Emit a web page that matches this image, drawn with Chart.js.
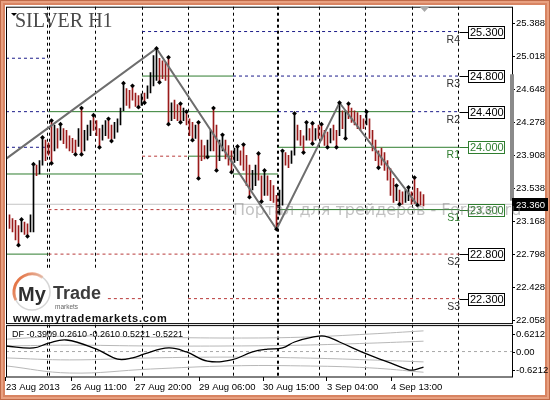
<!DOCTYPE html>
<html>
<head>
<meta charset="utf-8">
<script src="https://cdn.jsdelivr.net/npm/chart.js@4.4.1/dist/chart.umd.min.js"></script>
<style>
  html, body { margin: 0; padding: 0; background: #fff; }
</style>
</head>
<body>
<canvas id="grafico" width="550" height="400"></canvas>
<script>
// Valores (SILVER H1, barras horárias)
const barHighs = [23.24, 23.20, 23.18, 23.12, 23.19, 23.16, 23.14, 23.24, 23.81, 23.80,
  23.85, 24.11, 24.08, 24.05, 24.30, 24.25, 24.21, 24.26, 24.21, 24.19,
  24.13, 24.10, 24.08, 24.21, 24.44, 24.19, 24.25, 24.30, 24.36, 24.30,
  24.21, 24.25, 24.30, 24.32, 24.25, 24.28, 24.32, 24.44, 24.72, 24.66,
  24.64, 24.69, 24.61, 24.58, 24.60, 24.61, 24.69, 24.84, 25.03, 25.11,
  25.00, 24.97, 24.95, 25.01, 24.50, 24.53, 24.48, 24.49, 24.44, 24.40,
  24.32, 24.28, 24.25, 24.28, 24.08, 24.02, 24.08, 24.19, 24.44, 24.25,
  24.08, 24.14, 24.08, 24.02, 23.96, 23.99, 24.01, 23.96, 24.03, 23.91,
  23.80, 23.74, 23.80, 23.93, 23.68, 23.74, 23.68, 23.63, 23.57, 23.46,
  23.52, 23.96, 23.94, 23.91, 23.96, 24.38, 24.25, 24.19, 24.13, 24.28,
  24.21, 24.27, 24.21, 24.25, 24.26, 24.19, 24.17, 24.21, 24.25, 24.19,
  24.50, 24.41, 24.41, 24.49, 24.44, 24.41, 24.39, 24.36, 24.32, 24.40,
  24.32, 24.19, 24.08, 23.96, 23.99, 23.94, 23.85, 23.76, 23.65, 23.57,
  23.52, 23.50, 23.52, 23.55, 23.50, 23.66, 23.54, 23.50, 23.47];
const barLows = [23.09, 23.05, 22.96, 22.90, 23.05, 23.02, 23.00, 23.05, 23.05, 23.68,
  23.70, 23.80, 23.85, 23.91, 23.82, 23.96, 23.99, 24.08, 24.04, 23.99,
  23.96, 23.94, 23.92, 24.01, 23.92, 23.96, 24.08, 24.13, 24.19, 24.13,
  24.00, 24.08, 24.13, 24.10, 24.07, 24.10, 24.17, 24.25, 24.41, 24.47,
  24.44, 24.53, 24.46, 24.45, 24.47, 24.50, 24.55, 24.61, 24.69, 24.75,
  24.73, 24.77, 24.75, 24.26, 24.30, 24.32, 24.30, 24.28, 24.30, 24.25,
  24.13, 24.08, 24.10, 23.65, 23.85, 23.87, 23.89, 23.96, 23.96, 23.74,
  23.85, 23.96, 23.87, 23.80, 23.72, 23.83, 23.85, 23.80, 23.74, 23.57,
  23.44, 23.52, 23.57, 23.63, 23.39, 23.46, 23.46, 23.40, 23.38, 23.08,
  23.24, 23.35, 23.80, 23.77, 23.82, 23.91, 24.08, 24.02, 23.94, 24.08,
  24.08, 24.04, 24.08, 24.10, 24.08, 24.02, 24.00, 24.05, 24.08, 24.00,
  24.13, 24.21, 24.10, 24.32, 24.28, 24.25, 24.21, 24.19, 24.21, 24.25,
  24.10, 23.96, 23.85, 23.77, 23.80, 23.74, 23.63, 23.46, 23.38, 23.40,
  23.36, 23.36, 23.38, 23.40, 23.36, 23.37, 23.35, 23.35, 23.34];
// barras de alta (pretas); as demais são de baixa (vermelhas)
const upBars = [4, 7, 8, 10, 11, 15, 17, 23, 25, 26, 27, 31, 32, 35, 36, 37, 38, 44, 46, 47, 48, 49,
  54, 58, 62, 66, 67, 70, 71, 75, 76, 81, 82, 85, 90, 91, 94, 95, 99, 102, 107, 110, 112, 119, 129, 132, 133];
const fractalUp = [4, 8, 11, 14, 17, 24, 28, 33, 38, 41, 49, 53, 57, 59, 63, 68, 71, 76, 78, 83, 85,
  91, 95, 99, 101, 104, 110, 113, 119, 129, 133, 135];
const fractalDown = [3, 6, 14, 22, 24, 30, 34, 43, 45, 50, 53, 57, 61, 63, 66, 69, 74, 80, 84, 89,
  98, 101, 106, 109, 112, 123, 130, 136];
const zigzagIdx = [-1.17, 49, 89, 110, 136];
const zigzagPrice = [23.87, 25.11, 23.08, 24.50, 23.35];

// separadores de dia e rótulos do eixo de tempo
const daySeparators = [12.5, 13.2, 28.8, 44.2, 59.5, 74.5, 89.2, 89.8, 103.2, 118.8, 134.2, 149.8];
const timeTickPos = [-1.17, 20.5, 41.83, 63.17, 84.5, 105.83, 127.17];
const timeTickLabels = ['23 Aug 2013', '26 Aug 11:00', '27 Aug 20:00', '29 Aug 06:00', '30 Aug 15:00', '3 Sep 04:00', '4 Sep 13:00'];
const priceTicks = [25.388, 25.018, 24.648, 24.278, 23.908, 23.538, 23.168, 22.798, 22.428, 22.058];

// níveis de pivô diários: R = resistência, P = nível verde, S = suporte
const levelKind  = ['R', 'R', 'R', 'R', 'R', 'R', 'R', 'P', 'P', 'P', 'P', 'P', 'P', 'P', 'P', 'P', 'S', 'S', 'S', 'S', 'S'];
const levelFrom  = [-1.17, -1.17, -1.17, 44.2, 74.5, 89.5, 134.2, -1.17, -1.17, 13, 103.2, 44.2, 59.5, 74.5, 89.5, 89.5, 13, 13, 28.8, 59.5, 44.2];
const levelTo    = [13, 13, 13, 150, 150, 103.2, 150, 44.2, 13, 89.5, 134.2, 74.5, 74.5, 89.5, 150, 150, 74.5, 150, 44.2, 150, 59.5];
const levelPrice = [25.00, 24.40, 24.00, 25.30, 24.80, 24.40, 24.40, 23.70, 22.80, 24.40, 24.40, 24.80, 23.90, 23.70, 24.00, 23.30, 23.30, 22.80, 22.30, 22.30, 23.90];
const labelNames  = ['R4', 'R3', 'R2', 'R1', 'S1', 'S2', 'S3'];
const labelPrices = [25.300, 24.800, 24.400, 24.000, 23.300, 22.800, 22.300];
const lastPrice = 23.36;
const priceBand = [23.40, 24.82];

// indicador DF
const dfIdx = [-1.17, 8, 13, 19, 29, 36, 41, 45, 53, 59, 66, 74, 81, 86, 91, 95, 101, 105, 110, 119, 126, 133, 135, 138];
const dfVal = [0.14, 0.09, 0.21, 0.29, 0.06, -0.19, -0.16, -0.06, 0.09, -0.01, -0.24, -0.21, -0.01, 0.06, 0.09, 0.24, 0.36, 0.39, 0.24, -0.06, -0.26, -0.46, -0.46, -0.39];
const bandIdx = [-1.17, 20, 47, 74, 97, 120, 138];
const bandUpperOuter = [0.31, 0.39, 0.36, 0.34, 0.36, 0.44, 0.52];
const bandUpperInner = [0.14, 0.16, 0.14, 0.14, 0.16, 0.21, 0.26];
const bandLowerInner = [-0.16, -0.21, -0.16, -0.14, -0.16, -0.21, -0.26];
const bandLowerOuter = [-0.36, -0.54, -0.44, -0.36, -0.36, -0.41, -0.52];
const dfLegend = 'DF -0.3909 0.2610 -0.2610 0.5221 -0.5221';
const dfTicks = [0.6212, 0, -0.6212];

const X_MIN = -1.1667;
const X_MAX = 167.5;
const AXIS_FONT = 'Liberation Sans';

function levelPoints(kind) {
  const pts = [];
  levelKind.forEach((k, i) => {
    if (k !== kind) return;
    pts.push({ x: levelFrom[i], y: levelPrice[i] }, { x: levelTo[i], y: levelPrice[i] }, { x: levelTo[i], y: null });
  });
  return pts;
}

function serie(idx, vals) {
  return idx.map((v, k) => ({ x: v, y: vals[k] }));
}

// desenhos fixos: moldura, logotipo, títulos, caixas dos níveis
const decor = {
  id: 'decor',
  beforeDraw(chart) {
    const c = chart.ctx;
    c.save();
    c.fillStyle = '#c06a48'; c.fillRect(0, 0, 550, 400);
    c.fillStyle = '#e8a080'; c.fillRect(1, 1, 548, 398);
    c.fillStyle = '#d88462'; c.fillRect(3, 3, 544, 394);
    c.fillStyle = '#fff'; c.fillRect(5, 5, 540, 390);
    c.restore();
  },
  afterDraw(chart) {
    const c = chart.ctx, a = chart.chartArea;
    const y = chart.scales.y, yi = chart.scales.yi, x = chart.scales.x;
    const split = y.bottom;
    c.save();

    // logotipo
    c.fillStyle = '#fff';
    c.fillRect(7, 268, 98, 45);
    c.fillRect(7, 312, 152, 11);
    c.lineWidth = 1.5; c.strokeStyle = '#d6d6d6';
    c.beginPath(); c.arc(32, 292, 18, 0, Math.PI * 2); c.stroke();
    const g = c.createLinearGradient(14, 278, 44, 296);
    g.addColorStop(0, '#e4622c'); g.addColorStop(1, 'rgba(236,150,110,0.1)');
    c.strokeStyle = g; c.lineWidth = 3;
    c.beginPath(); c.arc(32, 292, 18, Math.PI * 0.85, Math.PI * 1.7); c.stroke();
    c.textBaseline = 'alphabetic'; c.textAlign = 'left';
    c.fillStyle = '#2e2e2e'; c.font = `bold 20px "${AXIS_FONT}"`; c.fillText('My', 18, 301);
    c.fillStyle = '#3c3c3c'; c.font = `bold 18px "${AXIS_FONT}"`; c.fillText('Trade', 53, 299);
    c.fillStyle = '#666'; c.font = `6.5px "${AXIS_FONT}"`; c.fillText('markets', 55, 309);
    c.fillStyle = '#111'; c.font = `bold 11px "${AXIS_FONT}"`; c.letterSpacing = '0.7px';
    c.fillText('www.mytrademarkets.com', 13, 322);
    c.letterSpacing = '0px';

    // molduras dos painéis
    c.strokeStyle = '#000'; c.lineWidth = 1;
    c.strokeRect(a.left + 0.5, a.top + 0.5, a.right - a.left, split - a.top - 1);
    c.strokeRect(a.left + 0.5, split + 1.5, a.right - a.left, a.bottom - split - 1.5);

    // faixa cinza no eixo de preços
    const b1 = y.getPixelForValue(priceBand[1]), b0 = y.getPixelForValue(priceBand[0]);
    c.fillStyle = '#8a8a8a'; c.fillRect(a.right - 2, b1, 4, b0 - b1);

    // título
    c.fillStyle = '#000';
    c.beginPath(); c.moveTo(11, 13); c.lineTo(17, 13); c.lineTo(14, 16); c.closePath(); c.fill();
    c.fillStyle = '#4a4a4a'; c.font = '20px "Liberation Serif"';
    c.fillText('SILVER H1', 15, 27);
    // marcador de deslocamento
    c.fillStyle = '#a8a8a8';
    c.beginPath(); c.moveTo(420, 7); c.lineTo(429, 7); c.lineTo(424.5, 12); c.closePath(); c.fill();

    // rótulos dos níveis
    const xEnd = x.getPixelForValue(150);
    labelNames.forEach((name, k) => {
      const py = Math.round(y.getPixelForValue(labelPrices[k])) + 0.5;
      const green = name === 'R1' || name === 'S1';
      const col = green ? '#2f7d2f' : '#000';
      c.strokeStyle = col; c.lineWidth = 1;
      c.beginPath(); c.moveTo(xEnd, py); c.lineTo(468, py); c.stroke();
      c.fillStyle = green ? '#2f7d2f' : '#333';
      c.font = `10.5px "${AXIS_FONT}"`; c.textAlign = 'right'; c.textBaseline = 'top';
      c.fillText(name, 460, py + 2);
      c.fillStyle = '#fff'; c.fillRect(468, py - 6, 36, 12);
      c.strokeRect(468.5, py - 6, 36, 12);
      c.fillStyle = col; c.font = `11px "${AXIS_FONT}"`; c.textAlign = 'left'; c.textBaseline = 'middle';
      c.fillText(labelPrices[k].toFixed(3), 470, py + 0.5);
    });

    // preço atual
    const pp = Math.round(y.getPixelForValue(lastPrice));
    c.fillStyle = '#000'; c.fillRect(a.right, pp - 6, 36, 13);
    c.fillStyle = '#fff'; c.font = `9.5px "${AXIS_FONT}"`; c.textAlign = 'left'; c.textBaseline = 'middle';
    c.fillText(lastPrice.toFixed(3), a.right + 4, pp + 1);

    // escala do indicador
    c.fillStyle = '#000'; c.strokeStyle = '#000';
    const pos = [yi.getPixelForValue(dfTicks[0]) + 7, yi.getPixelForValue(dfTicks[1]), yi.getPixelForValue(dfTicks[2]) - 6];
    dfTicks.forEach((v, k) => {
      const py = Math.round(pos[k]) + 0.5;
      c.beginPath(); c.moveTo(a.right, py); c.lineTo(a.right + 3, py); c.stroke();
      c.fillText(v === 0 ? '0.00' : v.toFixed(4), a.right + 4, py);
    });
    c.font = `9px "${AXIS_FONT}"`;
    c.fillText(dfLegend, 12, split + 10);

    // marca d'água
    c.fillStyle = 'rgba(120,120,120,0.45)'; c.font = '16px "DejaVu Sans"'; c.textBaseline = 'alphabetic';
    c.fillText('Портал для трейдеров - Forexer.ru', 233, 215);
    c.restore();
  }
};

const lineBase = { type: 'line', pointRadius: 0, pointHoverRadius: 0, borderWidth: 1, fill: false };

new Chart(document.getElementById('grafico'), {
  type: 'line',
  data: {
    datasets: [
      { ...lineBase, data: fractalUp.map(i => ({ x: i, y: barHighs[i] })), showLine: false,
        pointStyle: 'rectRot', pointRadius: 2.4, pointBackgroundColor: '#000', pointBorderColor: '#000', pointBorderWidth: 0, yAxisID: 'y' },
      { ...lineBase, data: fractalDown.map(i => ({ x: i, y: barLows[i] })), showLine: false,
        pointStyle: 'rectRot', pointRadius: 2.4, pointBackgroundColor: '#000', pointBorderColor: '#000', pointBorderWidth: 0, yAxisID: 'y' },
      { ...lineBase, data: serie(zigzagIdx, zigzagPrice), borderColor: '#6e6e6e', borderWidth: 2, yAxisID: 'y' },
      {
        type: 'bar',
        data: barHighs.map((h, i) => ({ x: i, y: [barLows[i], h] })),
        backgroundColor: barHighs.map((h, i) => upBars.includes(i) ? '#000' : '#9a1a1a'),
        barThickness: 1, borderWidth: 0, grouped: false, yAxisID: 'y'
      },
      { ...lineBase, data: [{ x: X_MIN, y: lastPrice }, { x: X_MAX, y: lastPrice }], borderColor: '#c4c4c4', yAxisID: 'y' },
      { ...lineBase, data: levelPoints('R'), borderColor: '#1c1c8a', borderDash: [3, 3], yAxisID: 'y' },
      { ...lineBase, data: levelPoints('P'), borderColor: '#2f7d2f', yAxisID: 'y' },
      { ...lineBase, data: levelPoints('S'), borderColor: '#b83a3a', borderDash: [3, 3], yAxisID: 'y' },
      { ...lineBase, data: serie(dfIdx, dfVal), borderColor: '#000', borderWidth: 1.3, tension: 0.4, yAxisID: 'yi' },
      { ...lineBase, data: serie(bandIdx, bandUpperOuter), borderColor: '#b8b8b8', tension: 0.4, yAxisID: 'yi' },
      { ...lineBase, data: serie(bandIdx, bandUpperInner), borderColor: '#b8b8b8', tension: 0.4, yAxisID: 'yi' },
      { ...lineBase, data: serie(bandIdx, bandLowerInner), borderColor: '#b8b8b8', tension: 0.4, yAxisID: 'yi' },
      { ...lineBase, data: serie(bandIdx, bandLowerOuter), borderColor: '#b8b8b8', tension: 0.4, yAxisID: 'yi' },
      { ...lineBase, data: [{ x: X_MIN, y: 0 }, { x: X_MAX, y: 0 }], borderColor: '#a8a8a8', borderDash: [3, 3], yAxisID: 'yi' }
    ]
  },
  options: {
    responsive: false,
    animation: false,
    devicePixelRatio: 1,
    events: [],
    layout: { padding: { left: 6, top: 6, right: 5, bottom: 5 } },
    plugins: { legend: { display: false }, tooltip: { enabled: false }, title: { display: false } },
    scales: {
      x: {
        type: 'linear', position: 'bottom', min: X_MIN, max: X_MAX, offset: false,
        afterBuildTicks: s => { s.ticks = daySeparators.map(v => ({ value: v })); },
        ticks: { display: false },
        grid: { offset: false, color: '#000', lineWidth: 1, drawTicks: false, borderDash: [3, 3] },
        border: { display: false, dash: [3, 3] },
        afterFit: s => { s.height = 0; }
      },
      xl: {
        type: 'linear', position: 'bottom', min: X_MIN, max: X_MAX, offset: false,
        afterBuildTicks: s => { s.ticks = timeTickPos.map(v => ({ value: v })); },
        ticks: {
          align: 'start', autoSkip: false, maxRotation: 0, padding: 1, color: '#000',
          font: { family: AXIS_FONT, size: 9.5 },
          callback: (v, i) => timeTickLabels[i]
        },
        grid: { offset: false, drawOnChartArea: false, tickLength: 4, color: '#000' },
        border: { display: false },
        afterFit: s => { s.height = 18; }
      },
      y: {
        type: 'linear', position: 'right', stack: 'panes', stackWeight: 318,
        min: 22.014, max: 25.579,
        afterBuildTicks: s => { s.ticks = priceTicks.map(v => ({ value: v })); },
        ticks: { padding: 1, color: '#000', font: { family: AXIS_FONT, size: 9.5 }, callback: v => v.toFixed(3) },
        grid: { drawOnChartArea: false, tickLength: 3, color: '#000' },
        border: { display: false },
        afterFit: s => { s.width = 33; }
      },
      yi: {
        type: 'linear', position: 'right', stack: 'panes', stackWeight: 53,
        min: -0.64, max: 0.69,
        afterBuildTicks: s => { s.ticks = [{ value: 0 }]; },
        ticks: { display: false },
        grid: { display: false },
        border: { display: false },
        afterFit: s => { s.width = 33; }
      }
    }
  },
  plugins: [decor]
});
</script>
</body>
</html>
